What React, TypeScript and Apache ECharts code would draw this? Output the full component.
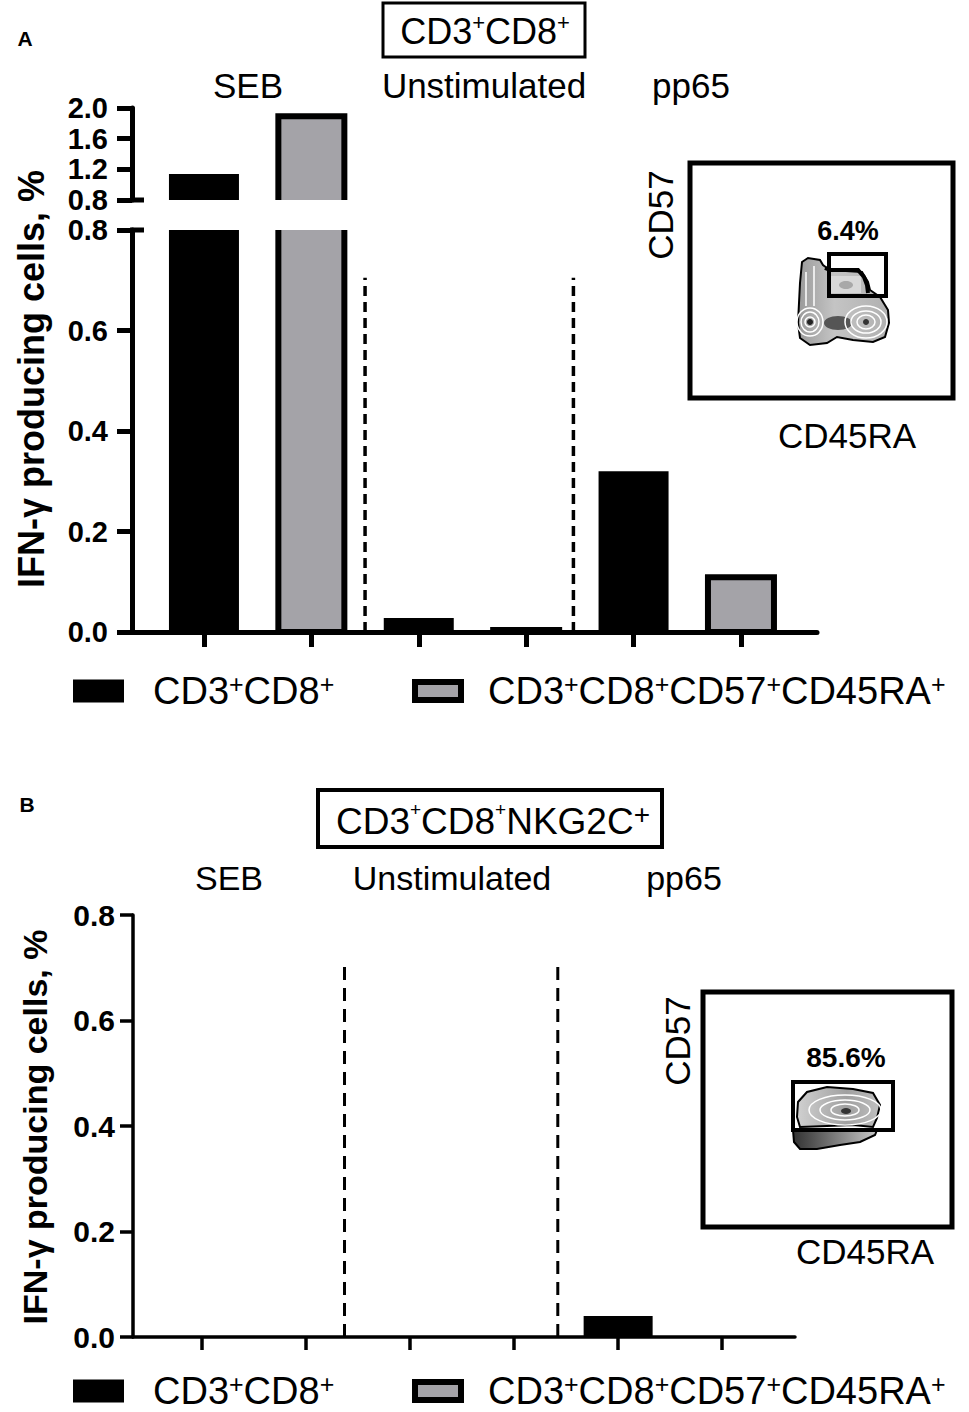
import React, { useEffect, useRef } from 'react';
import * as echarts from 'echarts';

// ---------- data ----------
const groups = ['SEB', 'Unstimulated', 'pp65'];
const subsetNames = ['CD3+CD8+', 'CD3+CD8+CD57+CD45RA+'];
const panelA_CD8 = [1.14, 0.028, 0.32];
const panelA_CD57 = [1.93, 0.01, 0.115];
const panelB_CD8 = [0, 0, 0.04];
const panelB_CD57 = [0, 0, 0];
const xTickValues = [0, 1, 2, 3, 4, 5];
const aLowerRange = [0, 0.8, 0.2];
const aUpperRange = [0.8, 2.0, 0.4];
const bRange = [0, 0.8, 0.2];
const aDividers = [1.5, 3.44];
const bDividers = [1.37, 3.42];
const dividerTop = 0.705;
const panelTitles = ['CD3+CD8+', 'CD3+CD8+NKG2C+'];
const insetGates = ['6.4%', '85.6%'];

const FONT = 'Liberation Sans, Arial, Helvetica, sans-serif';
const GRAY = '#a4a3a8';

const toPoints = (vals: number[], offset: number) => vals.map((v, i) => [i * 2 + offset, v]);

function supTokens(name: string, big = false) {
  const parts = name.split('+');
  let out = '';
  parts.forEach((p, i) => {
    if (p) out += `{a|${p}}`;
    if (i < parts.length - 1) out += big && i === parts.length - 2 ? '{S|+}' : '{s|+}';
  });
  return out;
}

function barSeries(name: string, data: number[][], xi: number, yi: number, bordered: boolean, width: number, lw: number) {
  return {
    type: 'custom',
    name,
    xAxisIndex: xi,
    yAxisIndex: yi,
    clip: true,
    data,
    itemStyle: { color: bordered ? GRAY : '#000' },
    renderItem: (_p: any, api: any) => {
      const x = api.value(0);
      const y = api.value(1);
      if (!(y > 0)) return null;
      const top = api.coord([x, y]);
      const base = api.coord([x, 0]);
      const half = width / 2;
      if (bordered) {
        return {
          type: 'rect',
          shape: { x: top[0] - half + lw / 2, y: top[1] + lw / 2, width: width - lw, height: Math.max(0, base[1] - top[1] - lw / 2) },
          style: { fill: GRAY, stroke: '#000', lineWidth: lw },
        };
      }
      return {
        type: 'rect',
        shape: { x: top[0] - half, y: top[1], width, height: base[1] - top[1] },
        style: { fill: '#000' },
      };
    },
  };
}

function dividerSeries(x: number, xi: number, yi: number, w: number, dash: number[]) {
  return {
    type: 'line',
    xAxisIndex: xi,
    yAxisIndex: yi,
    data: [[x, 0], [x, dividerTop]],
    symbol: 'none',
    silent: true,
    lineStyle: { color: '#000', width: w, type: dash },
    z: 1,
  };
}

function yAxisCfg(grid: number, range: number[], w: number, len: number, margin: number, fs: number) {
  return {
    type: 'value',
    gridIndex: grid,
    min: range[0],
    max: range[1],
    interval: range[2],
    axisLine: { show: true, onZero: false, lineStyle: { color: '#000', width: w } },
    axisTick: { show: true, length: len, lineStyle: { color: '#000', width: w } },
    axisLabel: {
      margin,
      fontSize: fs,
      fontWeight: 'bold',
      color: '#000',
      fontFamily: FONT,
      showMinLabel: true,
      showMaxLabel: true,
      formatter: (v: number) => v.toFixed(1),
    },
    splitLine: { show: false },
  };
}

function xAxisCfg(grid: number, min: number, max: number, w: number, len: number, show = true) {
  return {
    type: 'value',
    gridIndex: grid,
    min,
    max,
    show,
    axisLine: { show: true, onZero: false, lineStyle: { color: '#000', width: w } },
    axisTick: { show: true, customValues: xTickValues, length: len, lineStyle: { color: '#000', width: w } },
    axisLabel: { show: false },
    splitLine: { show: false },
  };
}

const legendRich = {
  g1: { width: 24, fontSize: 10 },
  g2: { width: 22, fontSize: 10 },
  a: { fontSize: 38, lineHeight: 40, fontFamily: FONT, color: '#000' },
  s: { fontSize: 25, lineHeight: 12, verticalAlign: 'top', fontFamily: FONT, color: '#000' },
};

function legendCfg(idx: number, top: number) {
  const black = idx === 0;
  return {
    data: [
      black
        ? { name: subsetNames[0], itemStyle: { color: '#000', borderWidth: 0 } }
        : { name: subsetNames[1], itemStyle: { color: GRAY, borderColor: '#000', borderWidth: 6 } },
    ],
    left: black ? 73 : 412,
    top,
    icon: 'rect',
    itemWidth: black ? 51 : 46,
    itemHeight: black ? 23 : 18,
    padding: 0,
    selectedMode: false,
    formatter: (name: string) => (black ? '{g1| }' : '{g2| }') + supTokens(name),
    textStyle: { rich: legendRich },
  };
}

function txt(x: number, y: number, text: string, fontSize: number, extra: any = {}) {
  return {
    type: 'text',
    x,
    y,
    rotation: extra.rotation || 0,
    style: {
      text,
      fontSize,
      fontFamily: FONT,
      fontWeight: extra.bold ? 'bold' : 'normal',
      fill: '#000',
      align: 'center',
      verticalAlign: 'middle',
      rich: extra.rich,
    },
  };
}

function insetA(): any[] {
  const els: any[] = [];
  els.push({ type: 'rect', shape: { x: 690, y: 163, width: 263, height: 235 }, style: { fill: 'none', stroke: '#000', lineWidth: 5 } });
  els.push(txt(660, 215, 'CD57', 35, { rotation: Math.PI / 2 }));
  els.push(txt(847, 435, 'CD45RA', 35));
  els.push(txt(848, 231, insetGates[0], 27, { bold: true }));
  els.push({
    type: 'polygon',
    shape: {
      points: [[802, 262], [808, 258], [820, 260], [823, 265], [827, 268], [830, 270], [862, 272], [868, 282], [870, 290], [880, 297], [888, 310], [889, 323], [885, 337], [873, 342], [853, 340], [837, 337], [827, 343], [810, 345], [800, 338], [798, 323], [799, 303], [800, 283]],
    },
    style: {
      fill: new echarts.graphic.LinearGradient(0, 0, 1, 0, [
        { offset: 0, color: '#9a9a9a' },
        { offset: 0.4, color: '#c4c4c4' },
        { offset: 1, color: '#b0b0b0' },
      ]),
      stroke: '#000',
      lineWidth: 2,
    },
  });
  els.push({ type: 'rect', shape: { x: 831, y: 276, width: 30, height: 17 }, style: { fill: '#d8d8d8' } });
  els.push({ type: 'ellipse', shape: { cx: 846, cy: 285, rx: 7, ry: 4 }, style: { fill: '#a8a8a8' } });
  els.push({ type: 'ellipse', shape: { cx: 838, cy: 323, rx: 14, ry: 7 }, style: { fill: '#555' } });
  [[13, 14], [9, 10], [5, 5]].forEach(([rx, ry]) =>
    els.push({ type: 'ellipse', shape: { cx: 810, cy: 322, rx, ry }, style: { fill: 'none', stroke: '#fff', lineWidth: 1.5 } })
  );
  els.push({ type: 'ellipse', shape: { cx: 810, cy: 322, rx: 3, ry: 3 }, style: { fill: '#222' } });
  [[21, 16], [15, 11], [9, 7]].forEach(([rx, ry]) =>
    els.push({ type: 'ellipse', shape: { cx: 866, cy: 322, rx, ry }, style: { fill: 'none', stroke: '#fff', lineWidth: 1.5 } })
  );
  els.push({ type: 'ellipse', shape: { cx: 866, cy: 322, rx: 3, ry: 3 }, style: { fill: '#333' } });
  els.push({ type: 'line', shape: { x1: 806, y1: 272, x2: 806, y2: 306 }, style: { stroke: '#fff', lineWidth: 1.5 } });
  els.push({ type: 'line', shape: { x1: 814, y1: 266, x2: 814, y2: 306 }, style: { stroke: '#fff', lineWidth: 1.5 } });
  els.push({ type: 'polyline', shape: { points: [[825, 268], [830, 270], [858, 270], [864, 277], [867, 285], [868, 293]] }, style: { stroke: '#000', lineWidth: 4, fill: 'none' } });
  els.push({ type: 'rect', shape: { x: 829, y: 254, width: 57, height: 42 }, style: { fill: 'none', stroke: '#000', lineWidth: 4 } });
  return els;
}

function insetB(): any[] {
  const els: any[] = [];
  els.push({ type: 'rect', shape: { x: 703, y: 992, width: 249, height: 235 }, style: { fill: 'none', stroke: '#000', lineWidth: 5 } });
  els.push(txt(677, 1041, 'CD57', 35, { rotation: Math.PI / 2 }));
  els.push(txt(865, 1251, 'CD45RA', 35));
  els.push(txt(846, 1057, insetGates[1], 28, { bold: true }));
  els.push({
    type: 'polygon',
    shape: { points: [[793, 1130], [877, 1130], [875, 1135], [860, 1142], [840, 1145], [817, 1149], [800, 1149], [794, 1142]] },
    style: {
      fill: new echarts.graphic.LinearGradient(0, 0, 1, 0, [
        { offset: 0, color: '#333' },
        { offset: 0.25, color: '#555' },
        { offset: 1, color: '#c8c8c8' },
      ]),
      stroke: '#000',
      lineWidth: 2,
    },
  });
  els.push({
    type: 'polygon',
    shape: { points: [[798, 1102], [807, 1092], [827, 1087], [853, 1089], [873, 1093], [880, 1105], [877, 1118], [873, 1127], [853, 1125], [827, 1126], [800, 1127], [797, 1117]] },
    style: {
      fill: new echarts.graphic.LinearGradient(0, 0, 1, 0, [
        { offset: 0, color: '#d0d0d0' },
        { offset: 0.6, color: '#a0a0a0' },
        { offset: 1, color: '#c0c0c0' },
      ]),
      stroke: '#000',
      lineWidth: 2,
    },
  });
  [[36, 15], [25, 10], [14, 6]].forEach(([rx, ry]) =>
    els.push({ type: 'ellipse', shape: { cx: 845, cy: 1110, rx, ry }, style: { fill: 'none', stroke: '#fff', lineWidth: 1.5 } })
  );
  els.push({ type: 'ellipse', shape: { cx: 846, cy: 1111, rx: 5, ry: 3 }, style: { fill: '#333' } });
  els.push({ type: 'rect', shape: { x: 793, y: 1082, width: 100, height: 48 }, style: { fill: 'none', stroke: '#000', lineWidth: 4 } });
  return els;
}

function buildOption() {
  const titleRichA = {
    a: { fontSize: 36, lineHeight: 40, fontFamily: FONT, color: '#000' },
    s: { fontSize: 22, lineHeight: 12, verticalAlign: 'top', fontFamily: FONT, color: '#000' },
  };
  const titleRichB = {
    a: { fontSize: 37, lineHeight: 42, fontFamily: FONT, color: '#000' },
    s: { fontSize: 19, lineHeight: 14, verticalAlign: 'top', fontFamily: FONT, color: '#000' },
    S: { fontSize: 28, lineHeight: 14, verticalAlign: 'top', fontFamily: FONT, color: '#000' },
  };

  const graphics: any[] = [
    txt(25, 38, 'A', 21, { bold: true }),
    txt(27, 804, 'B', 21, { bold: true }),
    { type: 'rect', shape: { x: 383, y: 3, width: 202, height: 54 }, style: { fill: '#fff', stroke: '#000', lineWidth: 3 } },
    txt(485, 31, supTokens(panelTitles[0]), 36, { rich: titleRichA }),
    { type: 'rect', shape: { x: 318, y: 790, width: 344, height: 57 }, style: { fill: '#fff', stroke: '#000', lineWidth: 4 } },
    txt(493, 821, supTokens(panelTitles[1], true), 37, { rich: titleRichB }),
    txt(248, 85, groups[0], 35),
    txt(484, 85, groups[1], 35),
    txt(691, 85, groups[2], 35),
    txt(229, 878, groups[0], 34),
    txt(452, 878, groups[1], 34),
    txt(684, 878, groups[2], 34),
    txt(31, 379, 'IFN-γ producing cells, %', 36, { bold: true, rotation: Math.PI / 2 }),
    txt(35, 1127, 'IFN-γ producing cells, %', 34, { bold: true, rotation: Math.PI / 2 }),
    { type: 'line', shape: { x1: 130, y1: 200, x2: 144, y2: 200 }, style: { stroke: '#000', lineWidth: 5 } },
    { type: 'line', shape: { x1: 130, y1: 230, x2: 144, y2: 230 }, style: { stroke: '#000', lineWidth: 5 } },
    ...insetA(),
    ...insetB(),
  ];

  return {
    animation: false,
    backgroundColor: '#fff',
    grid: [
      { left: 132, top: 230, width: 685, height: 402 },
      { left: 132, top: 108, width: 685, height: 92 },
      { left: 133, top: 915, width: 662, height: 422 },
    ],
    xAxis: [
      xAxisCfg(0, -0.67, 5.708, 5, 15),
      xAxisCfg(1, -0.67, 5.708, 5, 15, false),
      xAxisCfg(2, -0.663, 5.7, 3.5, 13),
    ],
    yAxis: [
      yAxisCfg(0, aLowerRange, 5, 15, 24, 29),
      yAxisCfg(1, aUpperRange, 5, 15, 24, 29),
      yAxisCfg(2, bRange, 3.5, 13, 18, 30),
    ],
    legend: [legendCfg(0, 671), legendCfg(1, 671), legendCfg(0, 1371), legendCfg(1, 1371)],
    series: [
      barSeries(subsetNames[0], toPoints(panelA_CD8, 0), 0, 0, false, 70, 0),
      barSeries(subsetNames[1], toPoints(panelA_CD57, 1), 0, 0, true, 72, 6),
      barSeries(subsetNames[0], toPoints(panelA_CD8, 0), 1, 1, false, 70, 0),
      barSeries(subsetNames[1], toPoints(panelA_CD57, 1), 1, 1, true, 72, 6),
      barSeries(subsetNames[0], toPoints(panelB_CD8, 0), 2, 2, false, 69, 0),
      barSeries(subsetNames[1], toPoints(panelB_CD57, 1), 2, 2, true, 69, 5),
      dividerSeries(aDividers[0], 0, 0, 3.5, [10, 6]),
      dividerSeries(aDividers[1], 0, 0, 3.5, [10, 6]),
      dividerSeries(bDividers[0], 2, 2, 3, [13, 8]),
      dividerSeries(bDividers[1], 2, 2, 3, [13, 8]),
    ],
    graphic: { elements: graphics },
  };
}

export default function App() {
  const ref = useRef<HTMLDivElement>(null);
  useEffect(() => {
    if (!ref.current) return;
    const chart = echarts.init(ref.current, undefined, { renderer: 'svg' });
    chart.setOption(buildOption() as any);
    return () => chart.dispose();
  }, []);
  return <div ref={ref} style={{ position: 'absolute', left: 0, top: 0, width: 969, height: 1412, background: '#fff' }} />;
}
